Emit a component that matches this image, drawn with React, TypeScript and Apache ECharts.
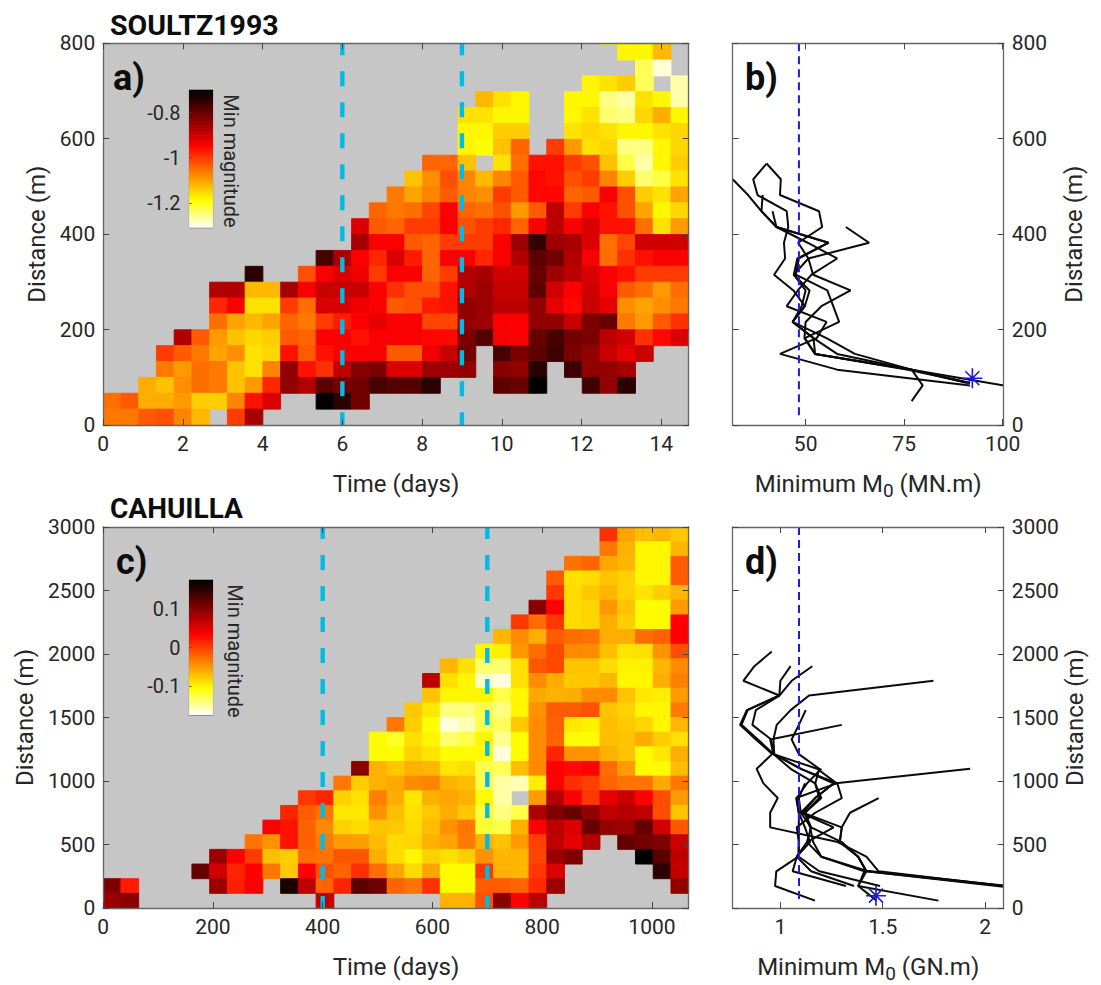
import React, { useEffect, useRef } from "react";
import * as echarts from "echarts";

const n = null;
const gap = (c: number) => Array(c).fill(null);

// Panel a: minimum magnitude x100, rows from top to bottom, columns left to right
const soultzRows: (number | null)[][] = [
  [...gap(28), -118, -118, -118, -112],
  [...gap(29), -118, -118, -112],
  [...gap(30), -123, -129],
  [...gap(27), -118, -116, -114, -123, n, -127],
  [...gap(21), -112, -116, -118, n, n, -118, -118, -125, -127, -116, -118, -127],
  [...gap(20), -116, -116, -118, -118, n, n, -118, -116, -124, -125, -115, -111, -118],
  [...gap(20), -118, -118, -114, -114, n, n, -116, -115, -116, -118, -118, -116, -115],
  [...gap(20), -118, -119, -113, -104, n, -100, -109, -116, -115, -125, -125, -118, -115],
  [...gap(18), -104, -104, -113, n, -116, -105, -96, -96, -100, -102, -113, -122, -127, -118, -114],
  [...gap(17), -113, -108, -102, -107, -112, -107, -103, -95, -96, -102, -100, -107, -114, -124, -122, -116],
  [...gap(16), -106, -110, -107, -103, -107, -108, -100, -103, -95, -95, -104, -103, -94, -102, -114, -116, -110],
  [...gap(15), -104, -106, -105, -101, -94, -104, -105, -102, -109, -103, -88, -100, -94, -96, -102, -110, -118, -115],
  [...gap(14), -91, -103, -104, -100, -100, -94, -102, -100, -98, -104, -94, -88, -94, -91, -96, -96, -105, -116, -109],
  [...gap(14), -86, -94, -94, -103, -104, -100, -100, -100, -94, -85, -75, -85, -86, -91, -105, -101, -90, -90, -90],
  [...gap(12), -77, -86, -94, -98, -91, -97, -104, -94, -94, -98, -94, -87, -79, -81, -87, -94, -105, -99, -96, -94, -94],
  [...gap(8), -74, n, n, -102, -94, -91, -93, -100, -94, -94, -104, -100, -87, -86, -90, -90, -80, -85, -88, -91, -94, -96, -100, -100, -100],
  [...gap(6), -87, -87, -112, -112, -86, -94, -89, -89, -89, -94, -99, -102, -102, -96, -87, -85, -89, -89, -79, -90, -94, -90, -94, -103, -105, -109, -105],
  [...gap(6), -98, -94, -116, -116, -100, -105, -91, -91, -93, -94, -103, -102, -97, -96, -84, -85, -88, -88, -84, -92, -95, -89, -92, -108, -110, -108, -106],
  [...gap(6), -105, -110, -112, -110, -104, -106, -100, -97, -94, -92, -94, -94, -101, -101, -84, -85, -94, -94, -84, -84, -89, -82, -80, -106, -109, -103, -99],
  [...gap(4), -87, -103, -109, -113, -115, -114, -103, -104, -94, -94, -96, -94, -94, -94, -95, -95, -82, -78, -94, -94, -80, -77, -81, -82, -88, -90, -99, -95, -91],
  [...gap(3), -100, -103, -106, -110, -108, -116, -115, -96, -103, -96, -94, -94, -94, -103, -103, -93, -89, -81, n, -77, -82, -79, -76, -82, -84, -89, -92, -89],
  [...gap(3), -106, -109, -105, -106, -113, -116, -107, -84, -96, -99, -88, -83, -82, -91, -91, -85, -85, -84, n, -83, -84, -74, n, -76, -84, -84, -86],
  [...gap(2), -111, -113, -108, -105, -106, -113, -109, -98, -84, -87, -79, -81, -81, -77, -78, -78, -74, n, n, n, -79, -80, -70, n, n, -76, -84, -74],
  [-105, -103, -111, -111, -109, -114, -114, -107, -96, -91, n, n, -70, -74, -81],
  [-106, -106, -103, -102, -107, -112, n, -100, -86],
];

// Panel c: minimum magnitude x1000, rows from top to bottom
const cahuillaRows: (number | null)[][] = [
  [...gap(28), 9, -55, -70, -65, -75],
  [...gap(28), -30, -62, -100, -100, -65],
  [...gap(26), -27, -20, -58, -65, -100, -100, -15],
  [...gap(25), -15, -88, -85, -72, -80, -100, -100, -15],
  [...gap(25), 5, -85, -75, -65, -80, -90, -78, -65],
  [...gap(24), 100, 35, -85, -82, -48, -72, -103, -103, -50],
  [...gap(23), 5, -25, 5, -85, -82, -60, -78, -103, -103, 35],
  [...gap(22), -65, -42, -60, -15, -25, -27, -60, -60, -25, -18, 38],
  [...gap(21), -100, -97, -48, -25, -5, -40, -42, -70, -90, -88, -45, -8],
  [...gap(19), -65, -88, -135, -135, -88, -12, -5, -72, -72, -85, -98, -98, -65, -42],
  [...gap(18), 72, -88, -100, -158, -165, -88, -42, -60, -75, -75, -65, -100, -100, -60, -35],
  [...gap(18), -72, -100, -100, -100, -125, -100, -58, -62, -60, -42, -42, -72, -92, -95, -50],
  [...gap(17), -75, -92, -140, -140, -125, -140, -100, -45, -15, -15, -10, -72, -80, -100, -100, -32],
  [...gap(16), -30, -78, -105, -165, -155, -125, -130, -75, -42, -18, -92, -98, -70, -75, -82, -100, -65],
  [...gap(15), -103, -115, -88, -100, -135, -125, -100, -145, -103, -42, -20, -103, -103, -70, -72, -60, -78, -88],
  [...gap(15), -103, -103, -80, -90, -103, -103, -103, -165, -103, -42, 15, -45, -45, -62, -72, -103, -92, -60],
  [...gap(14), 100, -62, -75, -62, -65, -92, -88, -125, -130, -70, -40, 35, 30, 35, -25, -50, -103, -103, -68],
  [...gap(13), -30, -78, -62, -58, -42, -38, -62, -68, -125, -150, -155, -95, 35, 10, 0, -20, -28, -28, -58, -30],
  [...gap(11), 5, 15, -80, -88, -35, -60, -92, -62, -55, -62, -103, -150, n, -50, 75, 35, 5, 48, 65, 35, -8, -50],
  [...gap(10), 15, -15, -28, -92, -92, -45, -70, -88, -75, -60, -75, -120, -140, -125, 80, 105, 118, 95, 70, 75, 70, -8, -72],
  [...gap(9), 35, 25, -18, -40, -80, -85, -72, -75, -85, -68, -45, -30, -118, -125, -62, 38, 72, 55, 118, 92, 88, 120, 60, -12],
  [...gap(8), -28, -45, 25, -18, -32, -50, -52, -68, -85, -82, -62, -55, -32, -62, -72, -50, 0, 70, 48, 78, n, 120, 110, 105, 65],
  [...gap(6), 90, 35, 2, -70, -78, -25, -28, -12, -12, -60, -85, -100, -80, -88, -78, -45, -65, -65, -2, 90, 105, n, n, n, 175, 125, 70],
  [...gap(5), 120, 60, 15, 35, -30, -75, 35, -10, -20, 10, -25, -55, -85, -55, -103, -103, 5, -62, -65, 5, 55, n, n, n, n, n, 150, 68],
  [105, 20, n, n, n, n, 90, 18, 35, n, 160, 70, -20, 15, 125, 115, -20, -28, 8, -103, -103, -15, -15, -20, 12, 90, n, n, n, n, n, n, 95],
  [90, 100, ...gap(10), 70, ...gap(6), -62, -62, -10, 100, 35, 72],
];

// Panel b: [minimum M0 (MN.m), distance (m)]
const soultzLine1 = [[31.5, 515], [35.4, 482], [38.8, 448], [42.6, 415], [55.8, 382], [47.9, 349], [47, 315], [51, 282], [49.8, 249], [46.7, 216], [55.3, 182], [62.5, 149], [76.9, 116], [100.3, 83]];
const soultzLine2 = [[40.1, 548], [36.7, 515], [37.8, 482], [45.2, 448], [45.6, 415], [44.5, 382], [44.8, 349], [42, 315], [46.9, 282], [49.8, 249], [46.7, 216], [52, 182], [58, 149], [77, 116], [91.7, 88]];
const soultzLine3 = [[40.1, 548], [43.7, 515], [43.5, 482], [53.4, 448], [54.2, 415], [48.1, 382], [50.7, 349], [51.9, 315], [61.4, 282], [54, 249], [50, 216], [49.7, 182], [52.4, 149], [77, 116], [91, 88]];
const soultzLine4 = [[39.1, 482], [38.8, 448], [42.6, 415], [55.8, 382], [48.3, 349], [47.5, 315], [55.5, 282], [57, 249], [58.5, 216], [49.8, 182], [52.4, 149], [76.9, 116], [79.7, 83], [76.9, 50]];
const soultzLine5 = [[41.6, 448], [42.6, 415], [50.5, 382], [58, 349], [51.5, 315], [48, 282], [45.2, 249], [55.3, 216], [52.8, 182], [43.5, 149], [58, 116], [91.7, 83]];
const soultzLine6 = [[60.2, 415], [66.1, 382], [50.7, 349], [47, 315], [50, 282], [49, 249], [46.7, 216], [52, 182], [52.4, 149], [76, 116], [91.7, 88]];
const soultzLines = [soultzLine1, soultzLine2, soultzLine3, soultzLine4, soultzLine5, soultzLine6];

// Panel d: [minimum M0 (GN.m), distance (m)]
const cahuillaLine1 = [[0.958, 2019], [0.873, 1904], [0.819, 1789], [0.995, 1673], [0.836, 1558], [0.803, 1442], [0.88, 1327], [0.96, 1212], [0.884, 1096], [0.917, 981], [0.987, 866], [0.95, 750], [0.95, 635], [1.28, 519], [1.42, 404], [1.48, 289], [2.091, 173]];
const cahuillaLine2 = [[1.05, 1904], [1, 1789], [0.995, 1673], [0.88, 1558], [0.863, 1442], [0.955, 1327], [0.966, 1212], [1.05, 1096], [1.17, 981], [1.2, 866], [1.12, 750], [1.15, 635], [1.3, 519], [1.38, 404], [1.42, 289], [2.09, 168]];
const cahuillaLine3 = [[1.156, 1904], [1.055, 1789], [0.995, 1673], [0.84, 1558], [0.81, 1442], [0.89, 1327], [0.966, 1212], [1.1, 1096], [1.278, 981], [1.3, 866], [1.17, 750], [1.08, 635], [1.09, 519], [1.088, 404], [0.98, 289], [0.974, 173], [1.169, 58]];
const cahuillaLine4 = [[1.748, 1789], [1.14, 1673], [1.05, 1558], [0.982, 1442], [0.966, 1327], [0.97, 1212], [1.1, 1096], [1.26, 981], [1.17, 866], [1.1, 750], [1.15, 635], [1.13, 519], [1.2, 404], [1.42, 294], [2.09, 178]];
const cahuillaLine5 = [[1.124, 1558], [1.09, 1442], [1.055, 1327], [1.09, 1212], [1.19, 1096], [1.17, 981], [1.19, 866], [1.12, 750], [1.145, 635], [1.16, 519], [1.2, 404], [1.41, 289], [1.38, 173], [1.772, 58]];
const cahuillaLine6 = [[1.3, 1442], [0.95, 1327], [0.966, 1212], [1.18, 1096], [1.275, 981], [1.077, 866], [1.09, 750], [1.09, 635], [1.09, 519], [1.09, 404], [1.19, 289], [1.487, 173]];
const cahuillaLine7 = [[1.927, 1096], [1.26, 981], [1.17, 866], [1.11, 750], [1.3, 635], [1.29, 519], [1.38, 404], [1.42, 289], [1.38, 173], [1.47, 58]];
const cahuillaLine8 = [[1.48, 866], [1.34, 750], [1.3, 635], [1.29, 519], [1.38, 404], [1.42, 289], [2.09, 173]];
const cahuillaLine9 = [[1.12, 981], [1.09, 866], [1.1, 750], [1.26, 635], [1.13, 519], [1.08, 404], [1.15, 289], [1.36, 173]];
const cahuillaLine10 = [[1.2, 1096], [1.13, 981], [1.08, 866], [1.09, 750], [1.12, 635], [1.145, 519], [1.08, 404], [1.06, 289], [1.32, 173]];
const cahuillaLines = [cahuillaLine1, cahuillaLine2, cahuillaLine3, cahuillaLine4, cahuillaLine5, cahuillaLine6, cahuillaLine7, cahuillaLine8, cahuillaLine9, cahuillaLine10];

const soultzStar = [92.3, 98];
const cahuillaStar = [1.467, 97];
const soultzInjectionDays = [6, 9];
const cahuillaInjectionDays = [400, 700];
const soultzThreshold = 48.3;
const cahuillaThreshold = 1.091;

const FONT = "Roboto";
const TEXT = "#262626";
const LINE = "#666666";

const hot = (t: number) => {
  const c = (x: number) => Math.round(255 * Math.max(0, Math.min(1, x)));
  return `rgb(${c(t / 0.4)},${c((t - 0.4) / 0.4)},${c((t - 0.8) / 0.2)})`;
};

const cellData = (rows: (number | null)[][], scale: number, w: number, h: number) => {
  const out: number[][] = [];
  rows.forEach((row, k) => {
    const r = rows.length - 1 - k;
    row.forEach((v, col) => {
      if (v !== null && v !== undefined) out.push([col * w, r * h, (col + 1) * w, (r + 1) * h, v / scale]);
    });
  });
  return out;
};

const cellSeries = (axis: number, data: number[][], vmin: number, vmax: number) => ({
  type: "custom",
  xAxisIndex: axis,
  yAxisIndex: axis,
  clip: true,
  silent: true,
  z: 2,
  encode: { x: [0, 2], y: [1, 3] },
  data,
  renderItem: (_: any, api: any) => {
    const p0 = api.coord([api.value(0), api.value(1)]);
    const p1 = api.coord([api.value(2), api.value(3)]);
    const col = hot((vmax - api.value(4)) / (vmax - vmin));
    return {
      type: "rect",
      shape: { x: p0[0], y: p1[1], width: p1[0] - p0[0], height: p0[1] - p1[1] },
      style: { fill: col, stroke: col, lineWidth: 0.9 },
    };
  },
});

const vLine = (axis: number, x: number, top: number, bottom: number, color: string, width: number, dash: number[], offset: number) => ({
  type: "line",
  xAxisIndex: axis,
  yAxisIndex: axis,
  silent: true,
  showSymbol: false,
  z: 4,
  data: [[x, top], [x, bottom]],
  lineStyle: { color, width, type: dash, dashOffset: offset },
});

const curve = (axis: number, data: number[][]) => ({
  type: "line",
  xAxisIndex: axis,
  yAxisIndex: axis,
  silent: true,
  showSymbol: false,
  z: 3,
  data,
  lineStyle: { color: "#0a0a0a", width: 2 },
});

const star = (axis: number, p: number[]) => ({
  type: "scatter",
  xAxisIndex: axis,
  yAxisIndex: axis,
  silent: true,
  z: 6,
  symbol: "path://M0 -10L0 10M-10 0L10 0M-7 -7L7 7M-7 7L7 -7",
  symbolSize: 20,
  data: [p],
  itemStyle: { color: "none", borderColor: "#1a1ad8", borderWidth: 1.6, opacity: 1 },
});

const axisBase = (grid: number, min: number, max: number, ticks: number[], position: string, labels: boolean) => ({
  type: "value",
  gridIndex: grid,
  min,
  max,
  position,
  z: 5,
  splitLine: { show: false },
  axisLine: { show: true, onZero: false, lineStyle: { color: LINE, width: 1.3 } },
  axisTick: { show: true, inside: true, length: 6, customValues: ticks, lineStyle: { color: "#444444", width: 1 } },
  axisLabel: { show: labels, customValues: ticks, color: TEXT, fontFamily: FONT, fontSize: 21, margin: 8, hideOverlap: false, formatter: (v: number) => String(v) },
  nameTextStyle: { color: TEXT, fontFamily: FONT, fontSize: 24 },
});

const m0Name = (unit: string) => ({
  name: `{base|Minimum M}{sub|0}{base| (${unit})}`,
  nameLocation: "middle",
  nameGap: 45,
  nameTextStyle: {
    rich: {
      base: { color: TEXT, fontFamily: FONT, fontSize: 24, lineHeight: 28 },
      sub: { color: TEXT, fontFamily: FONT, fontSize: 19, lineHeight: 28, padding: [12, 0, 0, 0] },
    },
  },
});

const colorSteps = 64;
const barData = (vmin: number, vmax: number) => {
  const out: number[][] = [];
  for (let i = 0; i < colorSteps; i++) {
    const a = vmin + ((vmax - vmin) * i) / colorSteps;
    const b = vmin + ((vmax - vmin) * (i + 1)) / colorSteps;
    out.push([0, a, 1, b, (a + b) / 2]);
  }
  return out;
};

const barAxes = (grid: number, vmin: number, vmax: number, ticks: number[]) => ({
  x: { type: "value", gridIndex: grid, min: 0, max: 1, show: false },
  y: {
    type: "value",
    gridIndex: grid,
    min: vmin,
    max: vmax,
    position: "left",
    z: 5,
    splitLine: { show: false },
    axisLine: { show: false },
    axisTick: { show: true, inside: true, length: 2, customValues: ticks, lineStyle: { color: "#444444" } },
    axisLabel: { show: true, customValues: ticks, color: TEXT, fontFamily: FONT, fontSize: 20, margin: 9 },
  },
});

const textEl = (text: string, x: number, y: number, size: number, bold: boolean, rotation = 0, align = "left") => ({
  type: "text",
  x,
  y,
  rotation,
  silent: true,
  z: 20,
  style: {
    text,
    fill: bold ? "#0d0d0d" : TEXT,
    font: `${bold ? "bold " : ""}${size}px ${FONT}`,
    textAlign: align,
    textVerticalAlign: "middle",
    verticalAlign: "middle",
  },
});

export default function App() {
  const ref = useRef<HTMLDivElement>(null);
  useEffect(() => {
    document.body.style.margin = "0";
    const chart = echarts.init(ref.current!, undefined, { renderer: "svg" });
    const aMax = 14.69;
    const cMax = 1067;
    const aTicks = [0, 2, 4, 6, 8, 10, 12, 14];
    const cTicks = [0, 200, 400, 600, 800, 1000];
    const dA = [0, 200, 400, 600, 800];
    const dC = [0, 500, 1000, 1500, 2000, 2500, 3000];
    const bMin = 31.5, bMax = 100.25, dMin = 0.767, dMax = 2.091;
    const mTicksB = [50, 75, 100];
    const mTicksD = [1, 1.5, 2];

    const grids = [
      { left: 103.2, top: 43.3, width: 585.5, height: 381.7 },
      { left: 732.7, top: 43.3, width: 271, height: 381.7 },
      { left: 103.2, top: 527, width: 585.5, height: 381 },
      { left: 732.7, top: 527, width: 271, height: 381 },
    ].map((g, i) => ({
      ...g,
      show: true,
      borderWidth: 0,
      backgroundColor: i % 2 === 0 ? "#c6c6c6" : "#ffffff",
    }));
    const barGrids = [
      { left: 189.5, top: 90, width: 23, height: 137.7 },
      { left: 189.5, top: 580, width: 23, height: 135 },
    ].map((g) => ({ ...g, show: true, borderWidth: 1.2, borderColor: "#555555", backgroundColor: "#ffffff" }));

    const barA = barAxes(4, -1.31, -0.7, [-1.2, -1, -0.8]);
    const barC = barAxes(5, -0.175, 0.175, [-0.1, 0, 0.1]);

    const xAxis = [
      { ...axisBase(0, 0, aMax, aTicks, "bottom", true), name: "Time (days)", nameLocation: "middle", nameGap: 47 },
      axisBase(0, 0, aMax, aTicks, "top", false),
      { ...axisBase(1, bMin, bMax, mTicksB, "bottom", true), ...m0Name("MN.m") },
      axisBase(1, bMin, bMax, mTicksB, "top", false),
      { ...axisBase(2, 0, cMax, cTicks, "bottom", true), name: "Time (days)", nameLocation: "middle", nameGap: 47 },
      axisBase(2, 0, cMax, cTicks, "top", false),
      { ...axisBase(3, dMin, dMax, mTicksD, "bottom", true), ...m0Name("GN.m") },
      axisBase(3, dMin, dMax, mTicksD, "top", false),
      barA.x,
      barC.x,
    ];
    const yAxis = [
      { ...axisBase(0, 0, 800, dA, "left", true), name: "Distance (m)", nameLocation: "middle", nameGap: 54 },
      axisBase(0, 0, 800, dA, "right", false),
      axisBase(1, 0, 800, dA, "left", false),
      { ...axisBase(1, 0, 800, dA, "right", true), name: "Distance (m)", nameLocation: "middle", nameGap: 58, nameRotate: 90 },
      { ...axisBase(2, 0, 3000, dC, "left", true), name: "Distance (m)", nameLocation: "middle", nameGap: 66 },
      axisBase(2, 0, 3000, dC, "right", false),
      axisBase(3, 0, 3000, dC, "left", false),
      { ...axisBase(3, 0, 3000, dC, "right", true), name: "Distance (m)", nameLocation: "middle", nameGap: 58, nameRotate: 90 },
      barA.y,
      barC.y,
    ];
    // bottom/left axes of panel g share index 2*g
    const series: any[] = [
      cellSeries(0, cellData(soultzRows, 100, aMax / 33, 33.26), -1.31, -0.7),
      cellSeries(4, cellData(cahuillaRows, 1000, cMax / 33, 3000 / 26), -0.175, 0.175),
      cellSeries(8, barData(-1.31, -0.7), -1.31, -0.7),
      cellSeries(9, barData(-0.175, 0.175), -0.175, 0.175),
      ...soultzInjectionDays.map((x) => vLine(0, x, 800, 0, "#00bbe6", 4.4, [15, 16], 3)),
      ...cahuillaInjectionDays.map((x) => vLine(4, x, 3000, 0, "#00bbe6", 4.4, [15, 16], 3)),
      vLine(2, soultzThreshold, 800, 16, "#1c1cdc", 2, [8, 5], 0),
      vLine(6, cahuillaThreshold, 3000, 58, "#1c1cdc", 2, [8, 5], 0),
      ...soultzLines.map((l) => curve(2, l)),
      ...cahuillaLines.map((l) => curve(6, l)),
      star(2, soultzStar),
      star(6, cahuillaStar),
    ];

    chart.setOption({
      animation: false,
      backgroundColor: "#ffffff",
      grid: [...grids, ...barGrids],
      xAxis,
      yAxis,
      series,
      graphic: [
        textEl("SOULTZ1993", 110, 25, 28.5, true),
        textEl("CAHUILLA", 110, 508, 28, true),
        textEl("a)", 113, 78, 36, true),
        textEl("b)", 745, 78, 36, true),
        textEl("c)", 116, 562, 36, true),
        textEl("d)", 745, 562, 36, true),
        textEl("Min magnitude", 231, 161, 20, false, -Math.PI / 2, "center"),
        textEl("Min magnitude", 235, 651, 20, false, -Math.PI / 2, "center"),
      ],
    });
    return () => chart.dispose();
  }, []);
  return <div ref={ref} style={{ position: "absolute", left: 0, top: 0, width: 1101, height: 985 }} />;
}
